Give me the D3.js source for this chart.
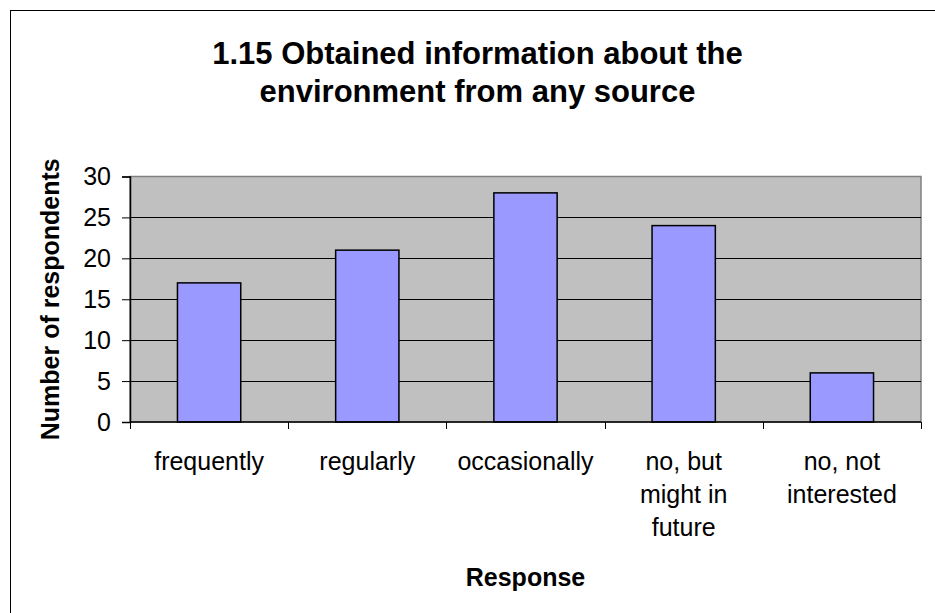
<!DOCTYPE html>
<html>
<head>
<meta charset="utf-8">
<script src="https://cdn.jsdelivr.net/npm/d3@7"></script>
<style>
  html, body { margin: 0; padding: 0; background: #fff; }
  svg { display: block; font-family: "Liberation Sans", Arial, sans-serif; }
</style>
</head>
<body>
<svg id="chart" width="935" height="613"></svg>
<script>
const categories = [["frequently"], ["regularly"], ["occasionally"], ["no, but", "might in", "future"], ["no, not", "interested"]];
const values = [17, 21, 28, 24, 6];
const yTicks = [0, 5, 10, 15, 20, 25, 30];
const titleLines = ["1.15 Obtained information about the", "environment from any source"];
const xTitle = "Response";
const yTitle = "Number of respondents";

const svg = d3.select("#chart");
const plot = { left: 130, right: 921, top: 176.5, bottom: 422 };

// outer chart frame (right/bottom edges fall outside the picture)
svg.append("rect").attr("x", 10.5).attr("y", 10.5).attr("width", 940).attr("height", 620)
  .attr("fill", "#fff").attr("stroke", "#000").attr("stroke-width", 1);

const x = d3.scaleBand().domain(d3.range(categories.length))
  .range([plot.left, plot.right]).paddingInner(0.6).paddingOuter(0.3);
const y = d3.scaleLinear().domain([0, 30]).range([plot.bottom, plot.top]);

// plot area
svg.append("rect").attr("x", plot.left).attr("y", plot.top)
  .attr("width", plot.right - plot.left).attr("height", plot.bottom - plot.top)
  .attr("fill", "#c0c0c0").attr("stroke", "#808080").attr("stroke-width", 1.5);

// gridlines
svg.append("g").selectAll("line").data(yTicks.filter(d => d > 0 && d < 30)).join("line")
  .attr("x1", plot.left).attr("x2", plot.right)
  .attr("y1", d => Math.round(y(d)) + 0.5).attr("y2", d => Math.round(y(d)) + 0.5)
  .attr("stroke", "#000").attr("stroke-width", 1);

// bars
svg.append("g").selectAll("rect").data(values).join("rect")
  .attr("x", (d, i) => x(i)).attr("width", x.bandwidth())
  .attr("y", d => y(d)).attr("height", d => y(0) - y(d))
  .attr("fill", "#9999ff").attr("stroke", "#000").attr("stroke-width", 1.5);

// y axis
const yAxis = d3.axisLeft(y).tickValues(yTicks).tickSize(8).tickPadding(11);
const gy = svg.append("g").attr("transform", `translate(${plot.left},0)`).call(yAxis);
gy.select(".domain").attr("stroke", "#000").attr("stroke-width", 1.5);
gy.selectAll(".tick line").attr("stroke", "#000");
gy.selectAll(".tick text").attr("font-size", 25).attr("fill", "#000")
  .attr("font-family", "Liberation Sans, Arial, sans-serif");

// x axis: line with ticks at category boundaries
const boundaries = d3.range(categories.length + 1);
const xb = d3.scaleLinear().domain([0, categories.length]).range([plot.left, plot.right]);
const gx = svg.append("g");
gx.append("line").attr("x1", plot.left).attr("x2", plot.right)
  .attr("y1", plot.bottom).attr("y2", plot.bottom).attr("stroke", "#000").attr("stroke-width", 1.5);
gx.selectAll("line.tk").data(boundaries).join("line").attr("class", "tk")
  .attr("x1", d => Math.round(xb(d)) + 0.5).attr("x2", d => Math.round(xb(d)) + 0.5)
  .attr("y1", plot.bottom).attr("y2", plot.bottom + 7).attr("stroke", "#000");

// category labels
const labels = svg.append("g").attr("font-size", 25).attr("text-anchor", "middle").attr("fill", "#000");
categories.forEach((lines, i) => {
  const cx = x(i) + x.bandwidth() / 2;
  const t = labels.append("text").attr("x", cx).attr("y", 470);
  lines.forEach((ln, j) => t.append("tspan").attr("x", cx).attr("dy", j === 0 ? 0 : 33).text(ln));
});

// axis titles
svg.append("text").attr("x", (plot.left + plot.right) / 2).attr("y", 586)
  .attr("text-anchor", "middle").attr("font-size", 25).attr("font-weight", "bold").text(xTitle);
svg.append("text").attr("transform", `translate(59,${(plot.top + plot.bottom) / 2}) rotate(-90)`)
  .attr("text-anchor", "middle").attr("font-size", 25).attr("font-weight", "bold").text(yTitle);

// title
const title = svg.append("text").attr("text-anchor", "middle").attr("font-size", 31).attr("font-weight", "bold");
titleLines.forEach((ln, j) => title.append("tspan").attr("x", 477.5).attr("y", 64 + j * 38).text(ln));
</script>
</body>
</html>
